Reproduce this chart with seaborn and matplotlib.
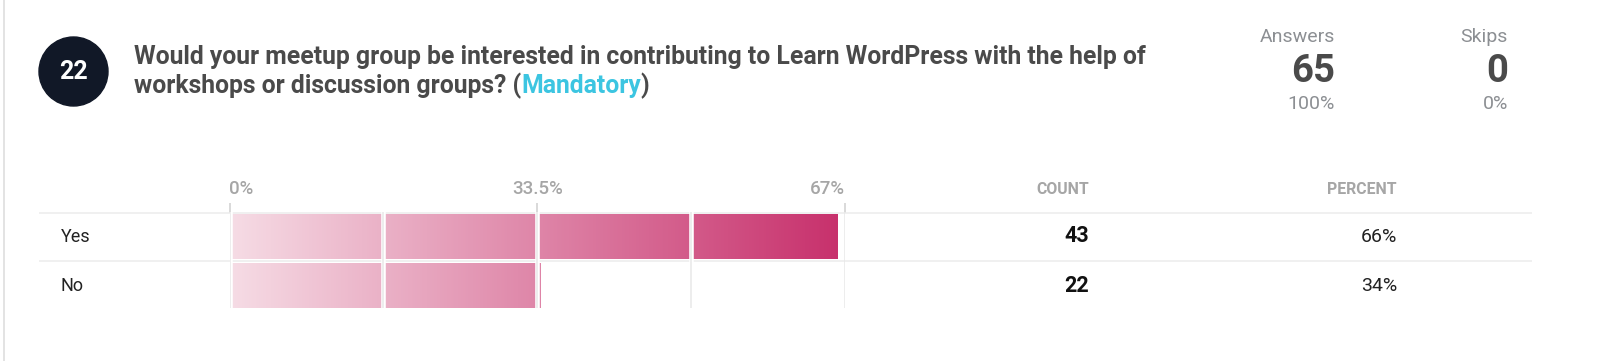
import numpy as np
import pandas as pd
import matplotlib
matplotlib.use("Agg")
import matplotlib.pyplot as plt
import seaborn as sns
from matplotlib import font_manager
from matplotlib.colors import LinearSegmentedColormap
from matplotlib.patches import Circle
from matplotlib.transforms import blended_transform_factory

# ---------------- data ----------------
question_number = "22"
title_line1 = "Would your meetup group be interested in contributing to Learn WordPress with the help of"
title_line2 = "workshops or discussion groups? ("
title_tag = "Mandatory"
answers = ["Yes", "No"]
counts = [43, 22]
percent_labels = ["66%", "34%"]
total_answers = 65
total_skips = 0
answers_pct = "100%"
skips_pct = "0%"
axis_max = 67
tick_values = [0, 33.5, 67]
tick_labels = ["0%", "33.5%", "67%"]
segment_lines = [16.75, 33.5, 50.25]

pct_values = [c / total_answers * 100 for c in counts]
df = pd.DataFrame({"answer": answers, "pct": pct_values})

# ---------------- style ----------------
sns.set_theme(style="white")
installed = {f.name for f in font_manager.fontManager.ttflist}
main_font = "Roboto" if "Roboto" in installed else "DejaVu Sans"
plt.rcParams["font.family"] = [main_font, "DejaVu Sans"]

W, H = 1600, 361
fig = plt.figure(figsize=(W / 100, H / 100), dpi=100)
fig.patch.set_facecolor("white")

# overlay axes in pixel coordinates (top-left origin)
ov = fig.add_axes([0, 0, 1, 1])
ov.set_xlim(0, W)
ov.set_ylim(H, 0)
ov.axis("off")

# bar axes
x0, x1 = 229.5, 845.0
ytop, ybot = 212.0, 310.0
ax = fig.add_axes([x0 / W, (H - ybot) / H, (x1 - x0) / W, (ybot - ytop) / H])

sns.barplot(data=df, x="pct", y="answer", orient="h", width=0.918,
            color="#e08aa8", errorbar=None, ax=ax, zorder=2)

cmap = LinearSegmentedColormap.from_list("pinkgrad", ["#f6dce5", "#c72f6b"])
grad = np.linspace(0, 1, 512).reshape(1, -1)
for p in ax.patches:
    p.set_facecolor("none")
    p.set_edgecolor("none")
    by = p.get_y()
    bh = p.get_height()
    im = ax.imshow(grad, cmap=cmap, extent=(0, axis_max, by + bh, by),
                   aspect="auto", interpolation="bilinear", zorder=2)
    im.set_clip_path(p)

ax.set_xlim(0, axis_max)
ax.set_ylim(1.5, -0.5)
ax.axis("off")

# white gaps between segments and at the start
for v in [0] + segment_lines:
    ax.axvline(v, color="white", lw=3.3, zorder=3)
# light grid lines
for v in [0] + segment_lines + [axis_max]:
    ax.plot([v, v], [-0.5, 1.46], color="#e8e8e8", lw=1.1, zorder=4,
            solid_capstyle="butt")

# tick marks above the grid (data x, pixel y)
btr = blended_transform_factory(ax.transData, ov.transData)
for v in tick_values:
    ov.plot([v, v], [203, 212.5], color="#cfcfcf", lw=1.1, transform=btr,
            clip_on=False, solid_capstyle="butt")

# tick labels
tick_ha = ["left", "center", "right"]
for v, lab, ha in zip(tick_values, tick_labels, tick_ha):
    ov.text(v, 189, lab, transform=btr, ha=ha, va="center",
            fontsize=13.5, color="#a6a6a6", fontweight="medium")

# row separator lines
for yy in [212.5, 261.0]:
    ov.plot([39, 1532], [yy, yy], color="#ececec", lw=1.1, solid_capstyle="butt")

# left card border
ov.plot([4, 4], [0, H], color="#dedede", lw=1.2)

# number circle
ov.add_patch(Circle((73.5, 71.5), 34.5, color="#111827", zorder=5))
ov.text(73.5, 72, question_number, ha="center", va="center", color="white",
        fontsize=18, fontweight="bold", zorder=6)

# title
title_color = "#4a4a4a"
tfs = 17.8
t1 = ov.text(133.7, 64, title_line1, ha="left", va="baseline", fontsize=tfs,
             fontweight="bold", color=title_color)
t2 = ov.text(133.7, 93, title_line2, ha="left", va="baseline", fontsize=tfs,
             fontweight="bold", color=title_color)
fig.canvas.draw()
r = fig.canvas.get_renderer()
bb = t2.get_window_extent(r)
t3 = ov.text(ov.transData.inverted().transform((bb.x1, 0))[0], 93, title_tag,
             ha="left", va="baseline", fontsize=tfs, fontweight="bold",
             color="#3cc5e1")
fig.canvas.draw()
bb3 = t3.get_window_extent(r)
ov.text(ov.transData.inverted().transform((bb3.x1, 0))[0], 93, ")", ha="left",
        va="baseline", fontsize=tfs, fontweight="bold", color=title_color)

# answers / skips summary
for xr, lab, num, pct in [(1335, "Answers", total_answers, answers_pct),
                          (1508, "Skips", total_skips, skips_pct)]:
    ov.text(xr, 37, lab, ha="right", va="center", fontsize=14, color="#8c8f93")
    ov.text(xr, 71, str(num), ha="right", va="center", fontsize=27.5,
            fontweight="bold", color="#4a4a4a")
    ov.text(xr, 104, pct, ha="right", va="center", fontsize=14, color="#8c8f93")

# column headers
ov.text(1089, 189, "COUNT", ha="right", va="center", fontsize=11.4,
        fontweight="bold", color="#a6a6a6")
ov.text(1397, 189, "PERCENT", ha="right", va="center", fontsize=11.4,
        fontweight="bold", color="#a6a6a6")

# rows
row_y = [236.5, 286.0]
for yy, lab, c, pl in zip(row_y, answers, counts, percent_labels):
    ov.text(61, yy, lab, ha="left", va="center", fontsize=13, color="#222222")
    ov.text(1089, yy, str(c), ha="right", va="center", fontsize=15.5,
            fontweight="bold", color="#111111")
    ov.text(1397, yy, pl, ha="right", va="center", fontsize=14,
            color="#222222")

fig.savefig("out.png", dpi=100, facecolor="white")
